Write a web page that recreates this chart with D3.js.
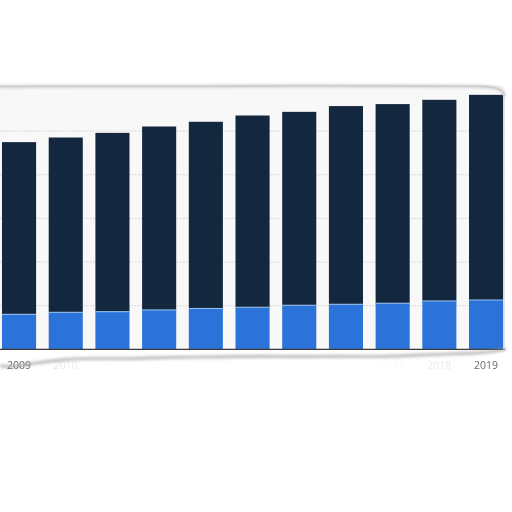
<!DOCTYPE html>
<html lang="en">
<head>
  <meta charset="UTF-8" />
  <title>Stacked bars 2009-2019</title>
  <script src="https://d3js.org/d3.v7.min.js"></script>
  <style>
    body { margin: 0; background: #fff; }
    svg { display: block; }
    .tick text { font-family: "Open Sans", sans-serif; font-size: 10.5px; fill: #666; }
  </style>
</head>
<body>
  <svg width="512" height="512"></svg>
  <script>
    // values
    const years = ["2009", "2010", "2011", "2012", "2013", "2014", "2015", "2016", "2017", "2018", "2019"];
    const lower = [401, 424, 431, 451, 468, 482, 505, 516, 528, 554, 565];
    const upper = [1973, 2003, 2049, 2102, 2139, 2197, 2216, 2271, 2282, 2305, 2351];
    const yTicks = [0, 500, 1000, 1500, 2000, 2500, 3000];

    const svg = d3.select("svg");
    const W = 512, H = 512;
    const plotTop = 87.5, base = 349.3, right = 505;

    const x = d3.scaleBand().domain(years).range([-4.3, 509.4])
      .paddingInner(0.27).paddingOuter(0.135);
    const y = d3.scaleLinear().domain([0, 3000]).range([base, plotTop]);

    const defs = svg.append("defs");
    defs.append("filter").attr("id", "blur").attr("x", "-10%").attr("y", "-50%")
      .attr("width", "120%").attr("height", "200%")
      .append("feGaussianBlur").attr("stdDeviation", 1.6);
    defs.append("filter").attr("id", "soft")
      .append("feGaussianBlur").attr("stdDeviation", 0.35);
    const fade = defs.append("linearGradient").attr("id", "fade");
    [[0, 0], [0.08, 0.05], [0.11, 0.85], [0.16, 0.88], [0.2, 0.97], [0.3, 1],
     [0.7, 1], [0.8, 0.95], [0.85, 0.88], [0.9, 0.85], [0.93, 0.05], [1, 0]]
      .forEach(([o, a]) => fade.append("stop").attr("offset", o)
        .attr("stop-color", "#fff").attr("stop-opacity", a));

    svg.append("rect").attr("width", W).attr("height", H).attr("fill", "#fff");

    // plot panel
    svg.append("rect").attr("x", 0).attr("y", plotTop - 2).attr("width", right)
      .attr("height", base - plotTop + 2).attr("fill", "#f8f8f8");

    // dotted gridlines
    svg.append("g").selectAll("line").data(yTicks.slice(1, -1)).join("line")
      .attr("x1", 0).attr("x2", right)
      .attr("y1", d => y(d)).attr("y2", d => y(d))
      .attr("stroke", "#cfcfcf").attr("stroke-width", 1)
      .attr("stroke-dasharray", "1.5,1.5");

    // stacked bars
    const rows = years.map((yr, i) => ({ year: yr, lower: lower[i], upper: upper[i] }));
    const stack = d3.stack().keys(["lower", "upper"])(rows);
    const colors = { lower: "#2b73d8", upper: "#13283f" };

    svg.append("g").selectAll("g").data(stack).join("g")
      .attr("fill", d => colors[d.key])
      .selectAll("rect").data(d => d).join("rect")
      .attr("x", d => x(d.data.year))
      .attr("y", d => y(d[1]))
      .attr("width", x.bandwidth())
      .attr("height", d => y(d[0]) - y(d[1]));

    // thin light seam on top of the blue part
    svg.append("g").selectAll("line").data(rows).join("line")
      .attr("x1", d => x(d.year)).attr("x2", d => x(d.year) + x.bandwidth())
      .attr("y1", d => y(d.lower)).attr("y2", d => y(d.lower))
      .attr("stroke", "#9cc2f2").attr("stroke-width", 1);

    // baseline
    svg.append("line").attr("x1", 0).attr("x2", right)
      .attr("y1", base).attr("y2", base)
      .attr("stroke", "#3a3a3a").attr("stroke-width", 1.2);

    // x axis labels
    const xAxis = svg.append("g").attr("transform", `translate(0,${base})`)
      .call(d3.axisBottom(x).tickSize(0).tickPadding(10));
    xAxis.select(".domain").remove();
    xAxis.selectAll(".tick text").attr("dy", "0.9em").attr("filter", "url(#soft)");

    // torn paper: fade out the middle labels
    svg.append("rect").attr("x", 0).attr("y", 353).attr("width", right)
      .attr("height", 24).attr("fill", "url(#fade)");

    // torn bottom edge shadow
    const bottomEdge = [[0, 366], [15, 367], [30, 364], [55, 360], [90, 358], [130, 359], [170, 357],
      [220, 357], [260, 356], [300, 357], [340, 356], [380, 357], [420, 355], [450, 354],
      [480, 353], [498, 351], [506, 349]];
    svg.append("path").attr("d", d3.line().curve(d3.curveBasis)(bottomEdge))
      .attr("fill", "none").attr("stroke", "#9a9a9a").attr("stroke-width", 2.6)
      .attr("opacity", 0.75).attr("filter", "url(#blur)");

    // torn top edge shadow
    const topEdge = [[-5, 86.5], [100, 86], [200, 86.5], [300, 85.5], [400, 86], [480, 86],
      [495, 87], [503, 91], [505, 96]];
    svg.append("path").attr("d", d3.line().curve(d3.curveBasis)(topEdge))
      .attr("fill", "none").attr("stroke", "#a8a8a8").attr("stroke-width", 2)
      .attr("opacity", 0.8).attr("filter", "url(#blur)");
    svg.append("path").attr("d", d3.line().curve(d3.curveBasis)(topEdge))
      .attr("fill", "none").attr("stroke", "#c4c4c4").attr("stroke-width", 0.8);

    // right edge
    svg.append("line").attr("x1", 505.5).attr("x2", 505.5).attr("y1", 94).attr("y2", 351)
      .attr("stroke", "#9a9a9a").attr("stroke-width", 2).attr("opacity", 0.7)
      .attr("filter", "url(#blur)");
    svg.append("line").attr("x1", 504).attr("x2", 504).attr("y1", 94).attr("y2", 350)
      .attr("stroke", "#d0d0d0").attr("stroke-width", 1);
  </script>
</body>
</html>
